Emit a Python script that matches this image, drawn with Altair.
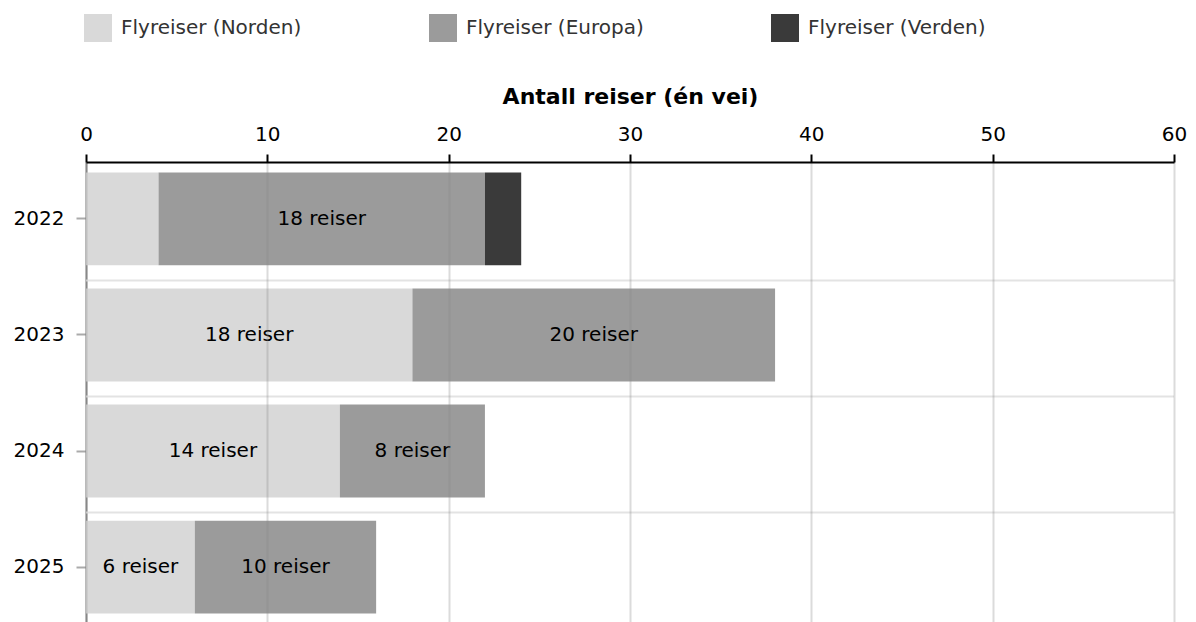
import altair as alt
import pandas as pd

years = ["2022", "2023", "2024", "2025"]
series = ["Flyreiser (Norden)", "Flyreiser (Europa)", "Flyreiser (Verden)"]
norden = [4, 18, 14, 6]
europa = [18, 20, 8, 10]
verden = [2, 0, 0, 0]
colors = ["#d9d9d9", "#9b9b9b", "#3a3a3a"]
x_ticks = [0, 10, 20, 30, 40, 50, 60]

rows = []
for i, yr in enumerate(years):
    for k, (s, vals) in enumerate(zip(series, [norden, europa, verden])):
        rows.append({"year": yr, "series": s, "value": vals[i], "order": k})
df = pd.DataFrame(rows)

W = 1088
H = 462
FONT = "DejaVu Sans"

y_scale = alt.Scale(domain=years, paddingInner=0.2, paddingOuter=0.09)
x_scale = alt.Scale(domain=[0, 60], nice=False)

x_axis = alt.Axis(
    orient="top", values=x_ticks, title="Antall reiser (én vei)",
    titleFontSize=22, titleFontWeight="bold", titleColor="black", titlePadding=16,
    labelFontSize=20, labelColor="black", labelPadding=10, labelFlush=False,
    domainColor="black", domainWidth=2, tickColor="black", tickWidth=2, tickSize=8,
    grid=True, gridColor="#888", gridOpacity=0.3, gridWidth=2, zindex=1,
)
y_axis = alt.Axis(
    title=None, labelFontSize=20, labelColor="black", labelPadding=12,
    domainColor="#888", domainWidth=2, tickColor="#aaa", tickWidth=2, tickSize=10,
    grid=False,
)

bars = alt.Chart(df).transform_filter("datum.value > 0").mark_bar().encode(
    x=alt.X("value:Q", stack="zero", scale=x_scale, axis=x_axis),
    y=alt.Y("year:N", scale=y_scale, axis=y_axis),
    color=alt.Color(
        "series:N",
        scale=alt.Scale(domain=series, range=colors),
        legend=alt.Legend(
            orient="none", legendX=-2, legendY=-148, direction="horizontal",
            title=None, symbolType="square", symbolSize=784, symbolStrokeWidth=0,
            labelFontSize=20, labelColor="#333", labelOffset=9, columnPadding=127,
            labelLimit=400, padding=0,
        ),
    ),
    order=alt.Order("order:Q"),
)

labels = alt.Chart(df).transform_window(
    cum="sum(value)", groupby=["year"], sort=[alt.SortField("order")], frame=[None, 0]
).transform_calculate(
    mid="datum.cum - datum.value / 2", label="datum.value + ' reiser'"
).transform_filter("datum.value >= 5").mark_text(
    fontSize=20, color="black", font=FONT
).encode(
    x=alt.X("mid:Q", scale=x_scale, axis=x_axis),
    y=alt.Y("year:N", scale=y_scale, axis=y_axis),
    text="label:N",
)

sep = alt.Chart(pd.DataFrame({"year": years[:-1]})).mark_rule(
    color="#e3e3e3", strokeWidth=2
).encode(
    y=alt.Y("year:N", scale=y_scale, axis=y_axis),
    yOffset=alt.value(108),
    x=alt.value(0),
    x2=alt.value(W),
)

chart = alt.layer(sep, bars, labels).properties(
    width=W, height=H,
    autosize=alt.AutoSizeParams(type="none"),
    padding={"left": 78, "top": 154, "right": 14, "bottom": 0},
).configure(font=FONT).configure_view(stroke=None)

chart.save("out.html", embed_options={"renderer": "svg", "actions": False})
